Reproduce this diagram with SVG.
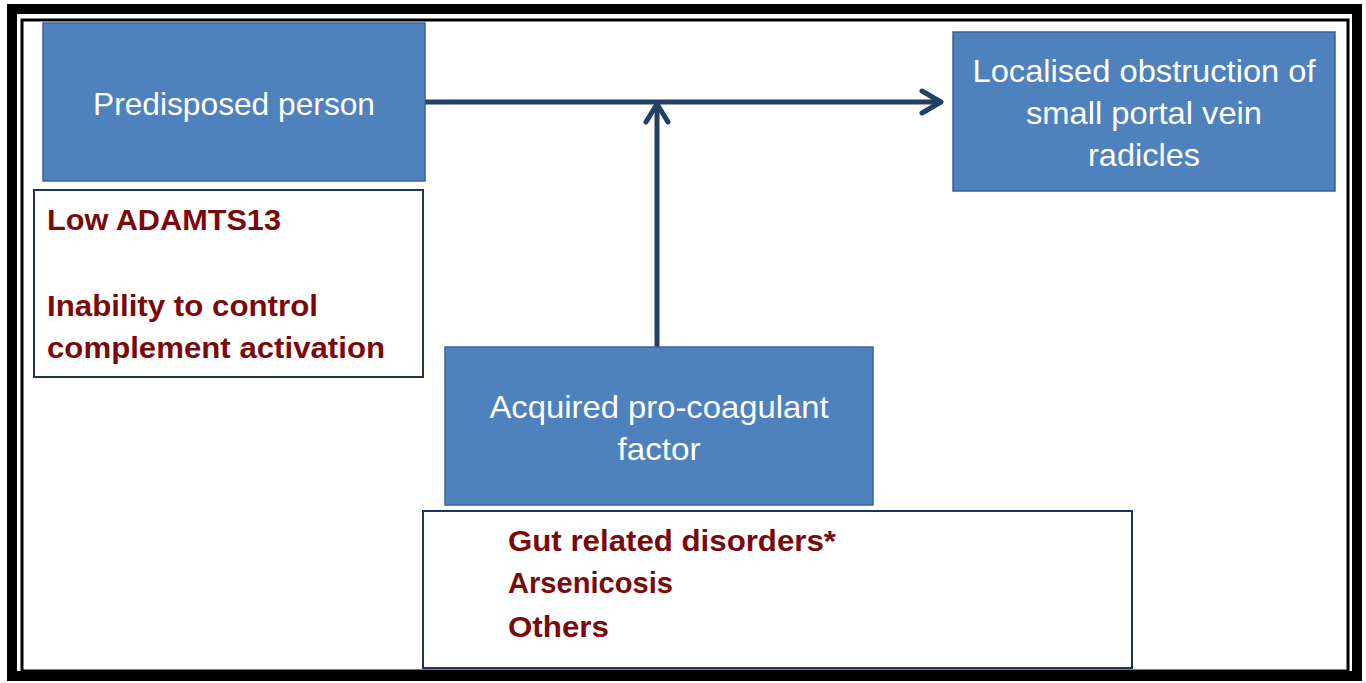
<svg xmlns="http://www.w3.org/2000/svg" width="1366" height="683" viewBox="0 0 1366 683">
<style>
.blue{fill:#4F81BD;stroke:#3A6597;stroke-width:1.5}
.wbox{fill:#fff;stroke:#1F3556;stroke-width:2}
.wt{font-family:"Liberation Sans",Arial,sans-serif;font-size:32px;fill:#fff;text-anchor:middle}
.rt{font-family:"Liberation Sans",Arial,sans-serif;font-size:29px;font-weight:bold;fill:#7A0A0A}
.conn{stroke:#243F60;stroke-width:5;fill:none}
.head{stroke:#243F60;stroke-width:5;fill:none;stroke-linecap:round;stroke-linejoin:round}
</style>
<rect x="0" y="0" width="1366" height="683" fill="#fff"/>
<rect x="12" y="9" width="1345" height="667" fill="none" stroke="#000" stroke-width="10"/>
<rect x="22" y="20" width="1326" height="651" fill="none" stroke="#000" stroke-width="3"/>
<g id="connectors">
<line class="conn" x1="425" y1="102" x2="940" y2="102"/>
<polyline class="head" points="922,91 941,102 922,113"/>
<line class="conn" x1="657" y1="347" x2="657" y2="106"/>
<polyline class="head" points="646,122 657,104 668,122"/>
</g>
<g id="predisposed">
<rect class="blue" x="43" y="23" width="382" height="158"/>
<text class="wt" x="234" y="115" textLength="282" lengthAdjust="spacingAndGlyphs">Predisposed person</text>
</g>
<g id="localised">
<rect class="blue" x="953" y="32" width="382" height="159"/>
<text class="wt" x="1144" y="82" textLength="343" lengthAdjust="spacingAndGlyphs">Localised obstruction of</text>
<text class="wt" x="1144" y="124" textLength="236" lengthAdjust="spacingAndGlyphs">small portal vein</text>
<text class="wt" x="1144" y="166" textLength="112" lengthAdjust="spacingAndGlyphs">radicles</text>
</g>
<g id="acquired">
<rect class="blue" x="445" y="347" width="428" height="158"/>
<text class="wt" x="659" y="418" textLength="339" lengthAdjust="spacingAndGlyphs">Acquired pro-coagulant</text>
<text class="wt" x="659" y="460" textLength="83" lengthAdjust="spacingAndGlyphs">factor</text>
</g>
<g id="predisposition-factors">
<rect class="wbox" x="34" y="190" width="389" height="187"/>
<text class="rt" x="47" y="230" textLength="234" lengthAdjust="spacingAndGlyphs">Low ADAMTS13</text>
<text class="rt" x="47" y="316" textLength="271" lengthAdjust="spacingAndGlyphs">Inability to control</text>
<text class="rt" x="47" y="358" textLength="338" lengthAdjust="spacingAndGlyphs">complement activation</text>
</g>
<g id="acquired-factors">
<rect class="wbox" x="423" y="511" width="709" height="157"/>
<text class="rt" x="508" y="551" textLength="328" lengthAdjust="spacingAndGlyphs">Gut related disorders*</text>
<text class="rt" x="508" y="593" textLength="165" lengthAdjust="spacingAndGlyphs">Arsenicosis</text>
<text class="rt" x="508" y="637" textLength="101" lengthAdjust="spacingAndGlyphs">Others</text>
</g>
</svg>
